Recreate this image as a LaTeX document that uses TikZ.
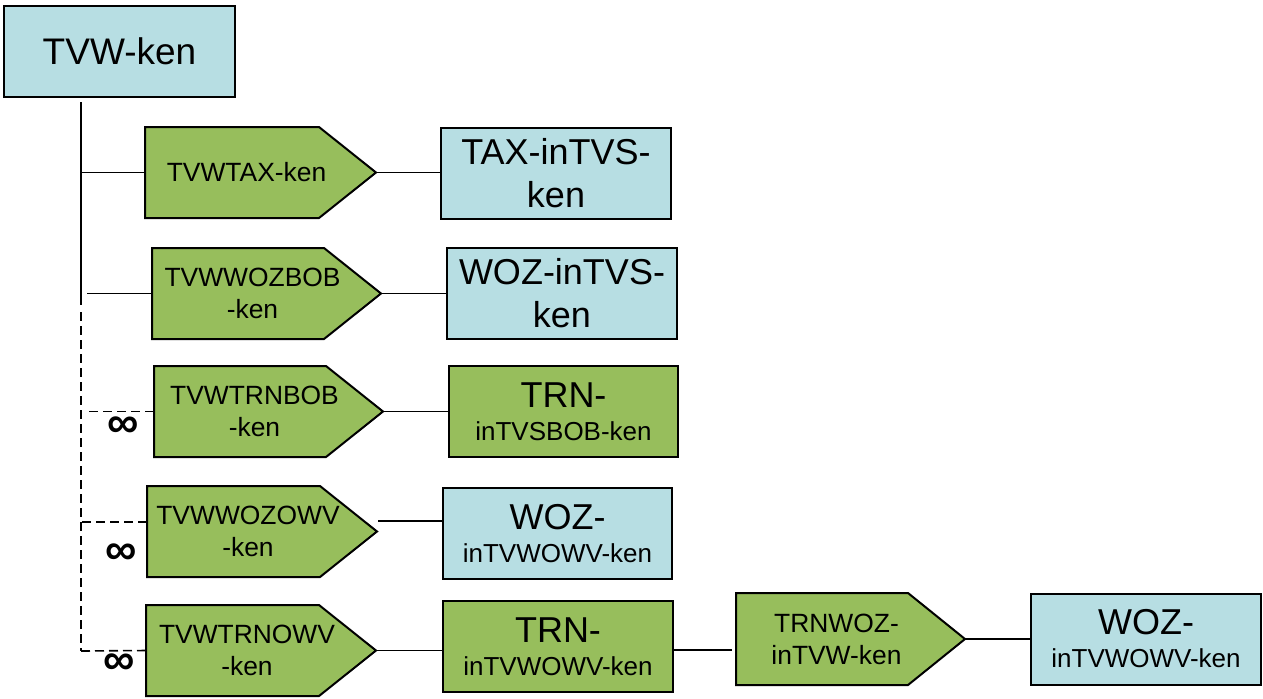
\documentclass[tikz,border=0pt]{standalone}
\usepackage{fontspec}
\setmainfont{Liberation Sans}
\definecolor{boxblue}{HTML}{B7DEE3}
\definecolor{boxgreen}{HTML}{97BE5C}
\newcommand\bigf{\fontsize{18}{21.5}\selectfont}
\newcommand\smallf{\fontsize{13.2}{16}\selectfont}
\newcommand\mkpent[6]{%
  \draw[pentstyle] (#2,#3) -- ({#5-57},#3) -- (#5,{(#3+#4)/2}) -- ({#5-57},#4) -- (#2,#4) -- cycle;
  \node[pentext] (#1) at ({(#2+#5)/2-14},{(#3+#4)/2}) {#6};
  \coordinate (#1-in) at (#2,{(#3+#4)/2});
  \coordinate (#1-tip) at (#5,{(#3+#4)/2});
}
\tikzset{
  boxbase/.style={draw=black, line width=1pt, inner sep=0pt, align=center, minimum height=45.5pt},
  bluebox/.style={boxbase, fill=boxblue},
  greenbox/.style={boxbase, fill=boxgreen},
  pentstyle/.style={draw=black, line width=1pt, fill=boxgreen, line join=miter},
  pentext/.style={inner sep=0pt, align=center, font=\smallf},
  conn/.style={draw=black, line width=0.9pt},
  dconn/.style={draw=black, line width=0.8pt, dash pattern=on 4.5pt off 2.5pt},
  inf/.style={inner sep=0pt, font=\fontsize{22}{22}\selectfont\bfseries}
}
\begin{document}
\begin{tikzpicture}[x=0.5pt, y=-0.5pt]
\useasboundingbox (0,0) rectangle (1263,698);
% top box
\node[bluebox, minimum width=115.5pt, font=\fontsize{18.5}{22}\selectfont] (top) at (119.5,51.5) {TVW-ken};
% right boxes
\node[bluebox, minimum width=115pt, font=\bigf] (b1) at (556,173) {TAX-inTVS-\\ken};
\node[bluebox, minimum width=115pt, font=\bigf] (b2) at (562,293.5) {WOZ-inTVS-\\ken};
\node[greenbox, minimum width=114.5pt, font=\fontsize{13}{16.5}\selectfont] (b3) at (563.5,411.5) {{\bigf TRN-}\\inTVSBOB-ken};
\node[bluebox, minimum width=114.5pt, font=\fontsize{13}{16.5}\selectfont] (b4) at (557.5,533.5) {{\bigf WOZ-}\\inTVWOWV-ken};
\node[greenbox, minimum width=115pt, font=\fontsize{13}{16.5}\selectfont] (b5) at (558,646.5) {{\bigf TRN-}\\inTVWOWV-ken};
\node[bluebox, minimum width=115pt, font=\fontsize{13}{16.5}\selectfont] (b6) at (1146,639) {{\bigf WOZ-}\\inTVWOWV-ken};
% pentagons
\mkpent{p1}{145}{127}{218}{376}{TVWTAX-ken}
\mkpent{p2}{152}{248}{339}{381}{TVWWOZBOB\\-ken}
\mkpent{p3}{154}{366}{457}{383}{TVWTRNBOB\\-ken}
\mkpent{p4}{147}{486}{577}{377}{TVWWOZOWV\\-ken}
\mkpent{p5}{146}{605}{696}{376}{TVWTRNOWV\\-ken}
\mkpent{p6}{736}{593}{685}{965}{TRNWOZ-\\inTVW-ken}
% trunk
\coordinate (trunkTop) at (81,102);
\coordinate (trunkMid) at (81,305);
\coordinate (trunkEnd) at (81,651);
\draw[conn] (trunkTop) -- (trunkMid);
\draw[dconn] (trunkMid) ++(0,7) -- (trunkEnd);
% left connectors
\coordinate (l1) at (81,172.5);
\coordinate (l2) at (87,293.5);
\coordinate (l3) at (89,411.5);
\coordinate (l4) at (82,522);
\coordinate (p4-l) at (147,522);
\coordinate (l5) at (81,651);
\draw[conn] (l1) -- (p1-in);
\draw[conn] (l2) -- (p2-in);
\draw[dconn] (l3) -- (p3-in);
\draw[dconn] (l4) -- (p4-l);
\draw[dconn] (l5) -- (p5-in);
% infinity marks
\node[inf] (i3) at (123,427) {∞};
\node[inf] (i4) at (121,554) {∞};
\node[inf] (i5) at (119,664) {∞};
% right connectors
\draw[conn] (p1-tip) -- (b1.west |- p1-tip);
\draw[conn] (p2-tip) -- (b2.west |- p2-tip);
\draw[conn] (p3-tip) -- (b3.west |- p3-tip);
\coordinate (r4) at (378,521);
\draw[conn] (r4) -- (b4.west |- r4);
\draw[conn] (p5-tip) -- (b5.west |- p5-tip);
\coordinate (r6) at (732,650);
\draw[conn] (b5.east |- r6) -- (r6);
\draw[conn] (p6-tip) -- (b6.west |- p6-tip);
\end{tikzpicture}
\end{document}
